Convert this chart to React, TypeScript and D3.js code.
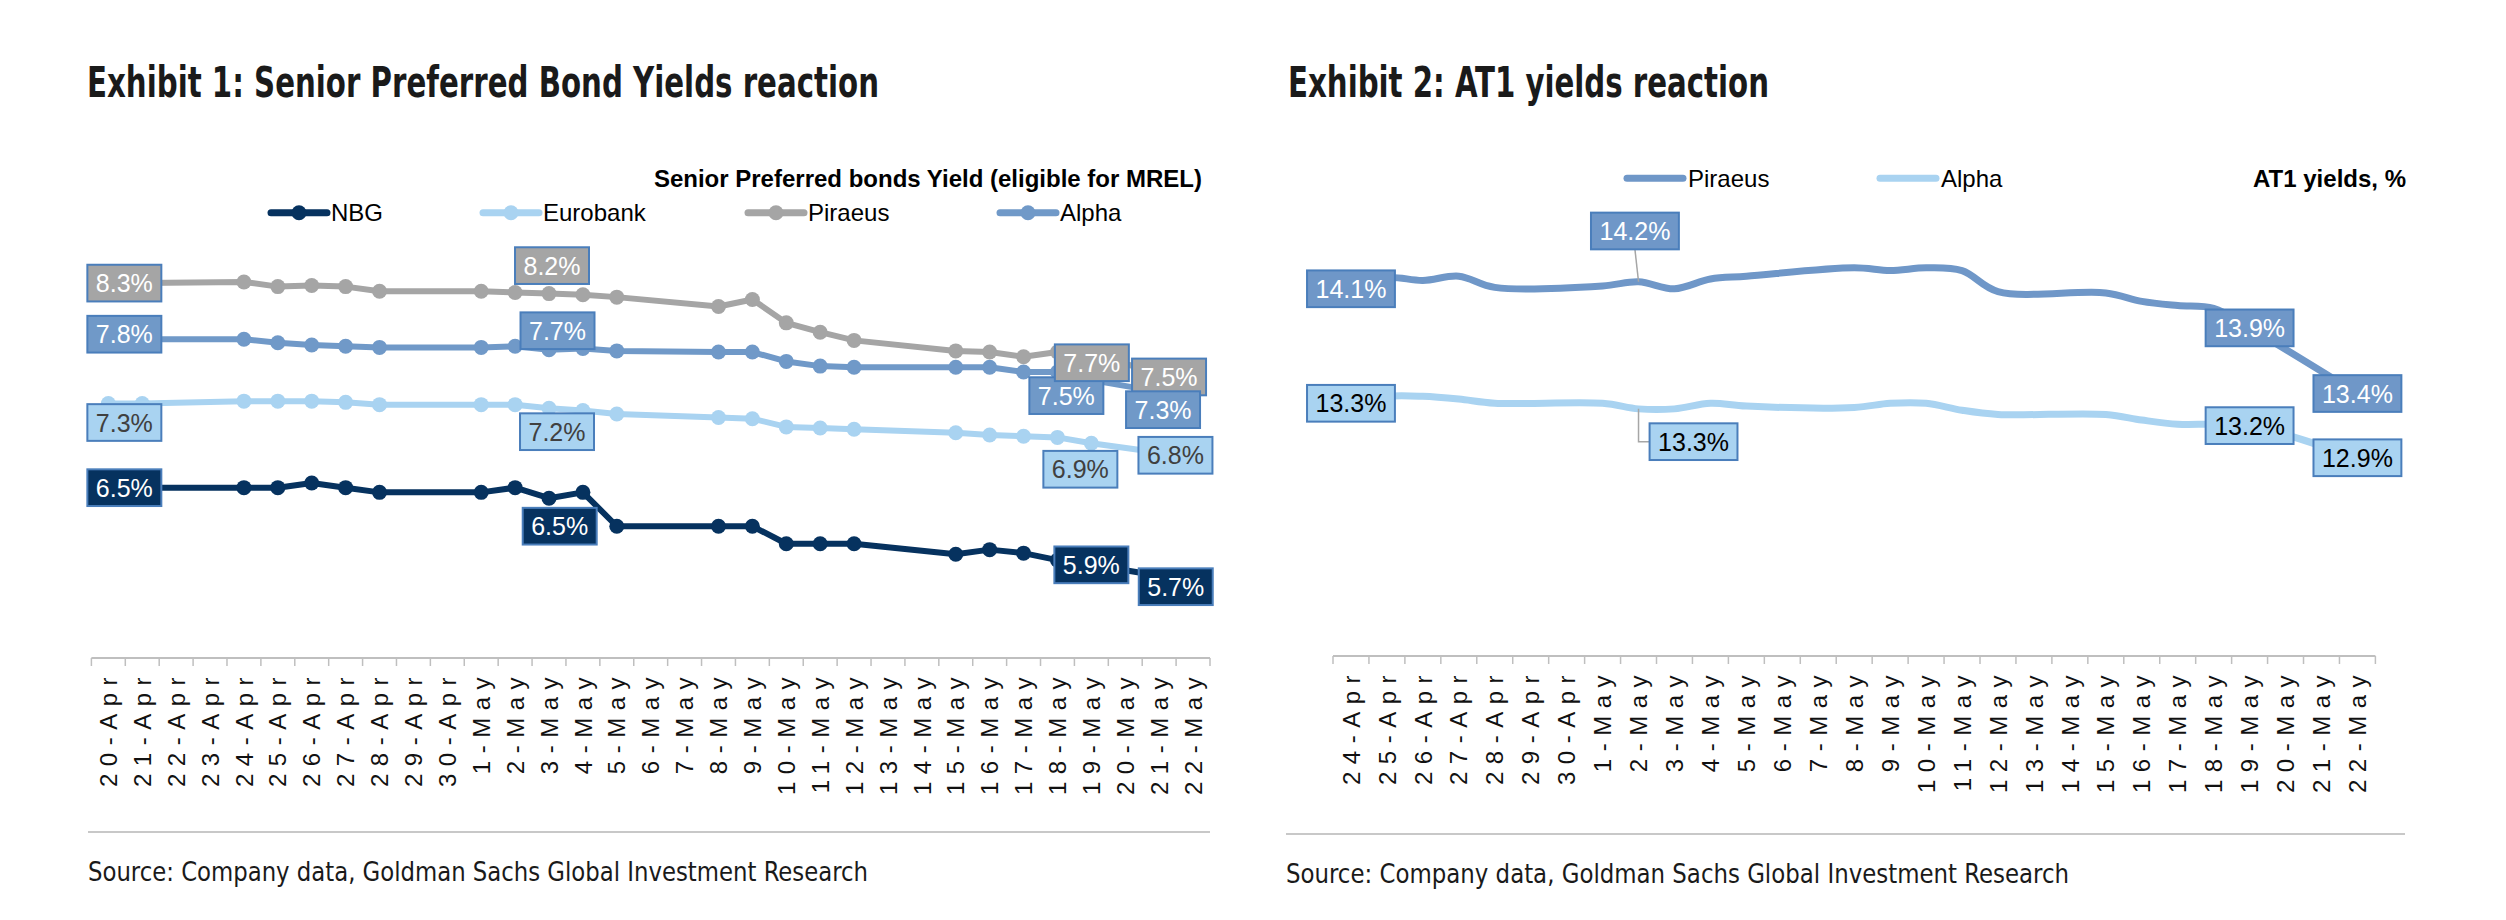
import React from 'react';
import * as d3 from 'd3';

// ---------- DATA ----------
const dates1 = ['20-Apr','21-Apr','22-Apr','23-Apr','24-Apr','25-Apr','26-Apr','27-Apr','28-Apr','29-Apr','30-Apr',
  '1-May','2-May','3-May','4-May','5-May','6-May','7-May','8-May','9-May','10-May','11-May','12-May','13-May','14-May',
  '15-May','16-May','17-May','18-May','19-May','20-May','21-May','22-May'];

const nbg = [6.54,6.54,null,null,6.54,6.54,6.58,6.54,6.50,null,null,6.50,6.54,6.45,6.50,6.21,null,null,6.21,6.21,6.06,6.06,6.06,null,null,5.97,6.01,5.98,5.92,5.88,null,null,5.74];
const eurobank = [7.26,7.26,null,null,7.28,7.28,7.28,7.27,7.25,null,null,7.25,7.25,7.22,7.20,7.17,null,null,7.14,7.13,7.06,7.05,7.04,null,null,7.01,6.99,6.98,6.97,6.92,null,null,6.80];
const piraeus = [8.29,8.29,null,null,8.30,8.26,8.27,8.26,8.22,null,null,8.22,8.21,8.20,8.19,8.17,null,null,8.09,8.15,7.95,7.87,7.80,null,null,7.71,7.70,7.66,7.70,7.66,null,null,7.47];
const alpha = [7.81,7.81,null,null,7.81,7.78,7.76,7.75,7.74,null,null,7.74,7.75,7.72,7.73,7.71,null,null,7.70,7.70,7.62,7.58,7.57,null,null,7.57,7.57,7.53,7.53,7.46,null,null,7.31];

const dates2 = ['24-Apr','25-Apr','26-Apr','27-Apr','28-Apr','29-Apr','30-Apr',
  '1-May','2-May','3-May','4-May','5-May','6-May','7-May','8-May','9-May','10-May','11-May','12-May','13-May','14-May',
  '15-May','16-May','17-May','18-May','19-May','20-May','21-May','22-May'];
const piraeusAT1 = [14.14,14.22,14.20,14.23,14.15,null,null,14.16,14.19,14.14,14.21,14.23,null,null,14.29,14.27,14.29,14.27,14.12,null,null,14.11,14.05,14.02,14.00,13.86,null,null,13.39];
const alphaAT1 = [13.32,13.37,13.37,13.35,13.32,null,null,13.32,13.28,13.28,13.32,13.30,null,null,13.29,13.32,13.32,13.27,13.24,null,null,13.24,13.20,13.17,13.17,13.16,null,null,12.93];

const seriesNames1 = ['NBG','Eurobank','Piraeus','Alpha'];
const seriesNames2 = ['Piraeus','Alpha'];

// ---------- STYLE ----------
const C = {
  nbg: '#06325f', eurobank: '#a9d3f1', piraeus: '#a5a5a5', alpha: '#7099c8',
  piraeusAT1: '#6f97c8', alphaAT1: '#a9d3f1', border: '#4a7ebb', axis: '#bfbfbf', rule: '#c8c8c8'
};
const ARIAL = '"Liberation Sans", Arial, sans-serif';
const NARROW = '"Liberation Sans Narrow", "Arial Narrow", "DejaVu Sans Condensed", "Liberation Sans", sans-serif';

// label annotations: series index, date, box-centre offset from point
const labels1 = [
  { s: 2, d: '20-Apr', dx: 16, dy: 0 }, { s: 3, d: '20-Apr', dx: 16, dy: -5 },
  { s: 1, d: '20-Apr', dx: 16, dy: 19 }, { s: 0, d: '20-Apr', dx: 16, dy: 0 },
  { s: 2, d: '3-May', dx: 3, dy: -28 }, { s: 3, d: '3-May', dx: 8.5, dy: -19 },
  { s: 1, d: '3-May', dx: 8, dy: 23.5 }, { s: 0, d: '3-May', dx: 10.7, dy: 28 },
  { s: 3, d: '19-May', dx: -25, dy: 15.5 }, { s: 2, d: '19-May', dx: 0.5, dy: 6 },
  { s: 1, d: '19-May', dx: -11, dy: 26 }, { s: 0, d: '19-May', dx: 0, dy: 0 },
  { s: 2, d: '22-May', dx: -24, dy: -2 }, { s: 3, d: '22-May', dx: -30, dy: 12 },
  { s: 1, d: '22-May', dx: -17.6, dy: -2 }, { s: 0, d: '22-May', dx: -17.3, dy: 5.5 },
];
const labels2 = [
  { s: 0, d: '24-Apr', dx: 0, dy: 0, leader: 'none' }, { s: 1, d: '24-Apr', dx: 0, dy: 0, leader: 'none' },
  { s: 0, d: '2-May', dx: -3.6, dy: -50.8, leader: 'straight' }, { s: 1, d: '2-May', dx: 55, dy: 32.8, leader: 'elbow' },
  { s: 0, d: '19-May', dx: 0, dy: 0, leader: 'none' }, { s: 1, d: '19-May', dx: 0, dy: 0, leader: 'none' },
  { s: 0, d: '22-May', dx: 0, dy: 0, leader: 'none' }, { s: 1, d: '22-May', dx: 0, dy: 0, leader: 'none' },
];

const fmt = (v: number) => d3.format('.1f')(v) + '%';

let _ctx: CanvasRenderingContext2D | null = null;
function textW(t: string, size: number) {
  if (!_ctx) _ctx = document.createElement('canvas').getContext('2d');
  _ctx!.font = `${size}px "Liberation Sans", Arial, sans-serif`;
  return _ctx!.measureText(t).width;
}

const BOX_H = 36.7, PAD = 8.5, LBL_FS = 25;

function Box({ cx, cy, text, fill, color }: any) {
  const w = textW(text, LBL_FS) + PAD * 2;
  return (
    <g>
      <rect x={cx - w / 2} y={cy - BOX_H / 2} width={w} height={BOX_H} fill={fill} stroke={C.border} strokeWidth={2} />
      <text x={cx} y={cy + 9} textAnchor="middle" fontFamily={ARIAL} fontSize={LBL_FS} fill={color}>{text}</text>
    </g>
  );
}

function XAxis({ x, dates, y0 }: any) {
  const bw = x.bandwidth();
  const edges = dates.map((d: string) => x(d)).concat([x(dates[dates.length - 1]) + bw]);
  return (
    <g>
      <line x1={edges[0]} x2={edges[edges.length - 1]} y1={y0} y2={y0} stroke={C.axis} strokeWidth={2} />
      {edges.map((e: number, i: number) => (
        <line key={i} x1={e} x2={e} y1={y0} y2={y0 + 8} stroke={C.axis} strokeWidth={1.5} />
      ))}
      {dates.map((d: string) => (
        <text key={d} transform={`translate(${x(d) + bw / 2},${y0 + 12}) rotate(-90)`} dy="0.36em"
          textAnchor="end" fontFamily={ARIAL} fontSize={24} letterSpacing={7.5} fill="#111">{d}</text>
      ))}
    </g>
  );
}

export default function App() {
  // ---- chart 1 ----
  const x1 = d3.scaleBand().domain(dates1).range([91.4, 1210]);
  const cx1 = (d: string) => (x1(d) as number) + x1.bandwidth() / 2;
  const y1 = d3.scaleLinear().domain([5, 9]).range([667.7, 200.1]);
  const s1 = [nbg, eurobank, piraeus, alpha];
  const col1 = [C.nbg, C.eurobank, C.piraeus, C.alpha];
  const txt1 = ['#ffffff', '#404040', '#ffffff', '#ffffff'];
  const line1 = d3.line<any>().x(p => cx1(p.d)).y(p => y1(p.v));
  const pts = (arr: (number | null)[], dates: string[]) =>
    arr.map((v, i) => ({ d: dates[i], v })).filter(p => p.v != null);
  const drawOrder1 = [2, 3, 1, 0];

  // ---- chart 2 ----
  const x2 = d3.scaleBand().domain(dates2).range([1333, 2375.4]);
  const cx2 = (d: string) => (x2(d) as number) + x2.bandwidth() / 2;
  const y2 = d3.scaleLinear().domain([12.5, 14.5]).range([517.8, 238.5]);
  const s2 = [piraeusAT1, alphaAT1];
  const col2 = [C.piraeusAT1, C.alphaAT1];
  const txt2 = ['#ffffff', '#000000'];
  const line2 = d3.line<any>().x(p => cx2(p.d)).y(p => y2(p.v)).curve(d3.curveCatmullRom.alpha(0.5));

  const legend1X = [271, 483, 748, 1000];
  const legend2X = [1627, 1880];

  return (
    <svg width={2506} height={920} style={{ position: 'absolute', left: 0, top: 0, background: '#fff' }}>
      <rect width={2506} height={920} fill="#fff" />
      {/* ===== Chart 1 ===== */}
      <text x={87} y={97} fontFamily={NARROW} fontWeight="bold" fontSize={43} textLength={792} lengthAdjust="spacingAndGlyphs" fill="#1a1a1a">
        Exhibit 1: Senior Preferred Bond Yields reaction
      </text>
      <text x={1202} y={187} textAnchor="end" fontFamily={ARIAL} fontWeight="bold" fontSize={24} fill="#000">
        Senior Preferred bonds Yield (eligible for MREL)
      </text>
      {seriesNames1.map((n, i) => (
        <g key={n}>
          <line x1={legend1X[i]} x2={legend1X[i] + 56} y1={212.7} y2={212.7} stroke={col1[i]} strokeWidth={7} strokeLinecap="round" />
          <circle cx={legend1X[i] + 28} cy={212.7} r={7.5} fill={col1[i]} />
          <text x={legend1X[i] + 60} y={221.3} fontFamily={ARIAL} fontSize={24} fill="#000">{n}</text>
        </g>
      ))}
      <XAxis x={x1} dates={dates1} y0={658} />
      {drawOrder1.map(si => {
        const p = pts(s1[si], dates1);
        return (
          <g key={si}>
            <path d={line1(p) as string} fill="none" stroke={col1[si]} strokeWidth={6} strokeLinejoin="round" />
            {p.map(q => <circle key={q.d} cx={cx1(q.d)} cy={y1(q.v as number)} r={7.5} fill={col1[si]} />)}
          </g>
        );
      })}
      {labels1.map((l, i) => {
        const v = s1[l.s][dates1.indexOf(l.d)] as number;
        return <Box key={i} cx={cx1(l.d) + l.dx} cy={y1(v) + l.dy} text={fmt(v)} fill={col1[l.s]} color={txt1[l.s]} />;
      })}
      <line x1={88} x2={1210} y1={832} y2={832} stroke={C.rule} strokeWidth={2} />
      <text x={88} y={881} fontFamily={NARROW} fontSize={27} textLength={780} lengthAdjust="spacingAndGlyphs" fill="#1a1a1a">
        Source: Company data, Goldman Sachs Global Investment Research
      </text>

      {/* ===== Chart 2 ===== */}
      <text x={1288} y={97} fontFamily={NARROW} fontWeight="bold" fontSize={43} textLength={481} lengthAdjust="spacingAndGlyphs" fill="#1a1a1a">
        Exhibit 2: AT1 yields reaction
      </text>
      {seriesNames2.map((n, i) => (
        <g key={n}>
          <line x1={legend2X[i]} x2={legend2X[i] + 56} y1={178.3} y2={178.3} stroke={col2[i]} strokeWidth={7} strokeLinecap="round" />
          <text x={legend2X[i] + 61} y={186.9} fontFamily={ARIAL} fontSize={24} fill="#000">{n}</text>
        </g>
      ))}
      <text x={2406} y={187} textAnchor="end" fontFamily={ARIAL} fontWeight="bold" fontSize={24} fill="#000">AT1 yields, %</text>
      <XAxis x={x2} dates={dates2} y0={656} />
      {[1, 0].map(si => {
        const p = pts(s2[si], dates2);
        return <path key={si} d={line2(p) as string} fill="none" stroke={col2[si]} strokeWidth={7} strokeLinejoin="round" />;
      })}
      {labels2.map((l, i) => {
        const v = s2[l.s][dates2.indexOf(l.d)] as number;
        const px = cx2(l.d), py = y2(v);
        const bx = px + l.dx, by = py + l.dy;
        const w = textW(fmt(v), LBL_FS) + PAD * 2;
        let leader = null;
        if (l.leader === 'straight') {
          leader = <line x1={bx} y1={by + BOX_H / 2} x2={px} y2={py} stroke="#a6a6a6" strokeWidth={1.5} />;
        } else if (l.leader === 'elbow') {
          leader = <polyline points={`${px},${py} ${px},${by} ${bx - w / 2},${by}`} fill="none" stroke="#a6a6a6" strokeWidth={1.5} />;
        }
        return (
          <g key={i}>
            {leader}
            <Box cx={bx} cy={by} text={fmt(v)} fill={col2[l.s]} color={txt2[l.s]} />
          </g>
        );
      })}
      <line x1={1286} x2={2405} y1={834} y2={834} stroke={C.rule} strokeWidth={2} />
      <text x={1286} y={883} fontFamily={NARROW} fontSize={27} textLength={783} lengthAdjust="spacingAndGlyphs" fill="#1a1a1a">
        Source: Company data, Goldman Sachs Global Investment Research
      </text>
    </svg>
  );
}
